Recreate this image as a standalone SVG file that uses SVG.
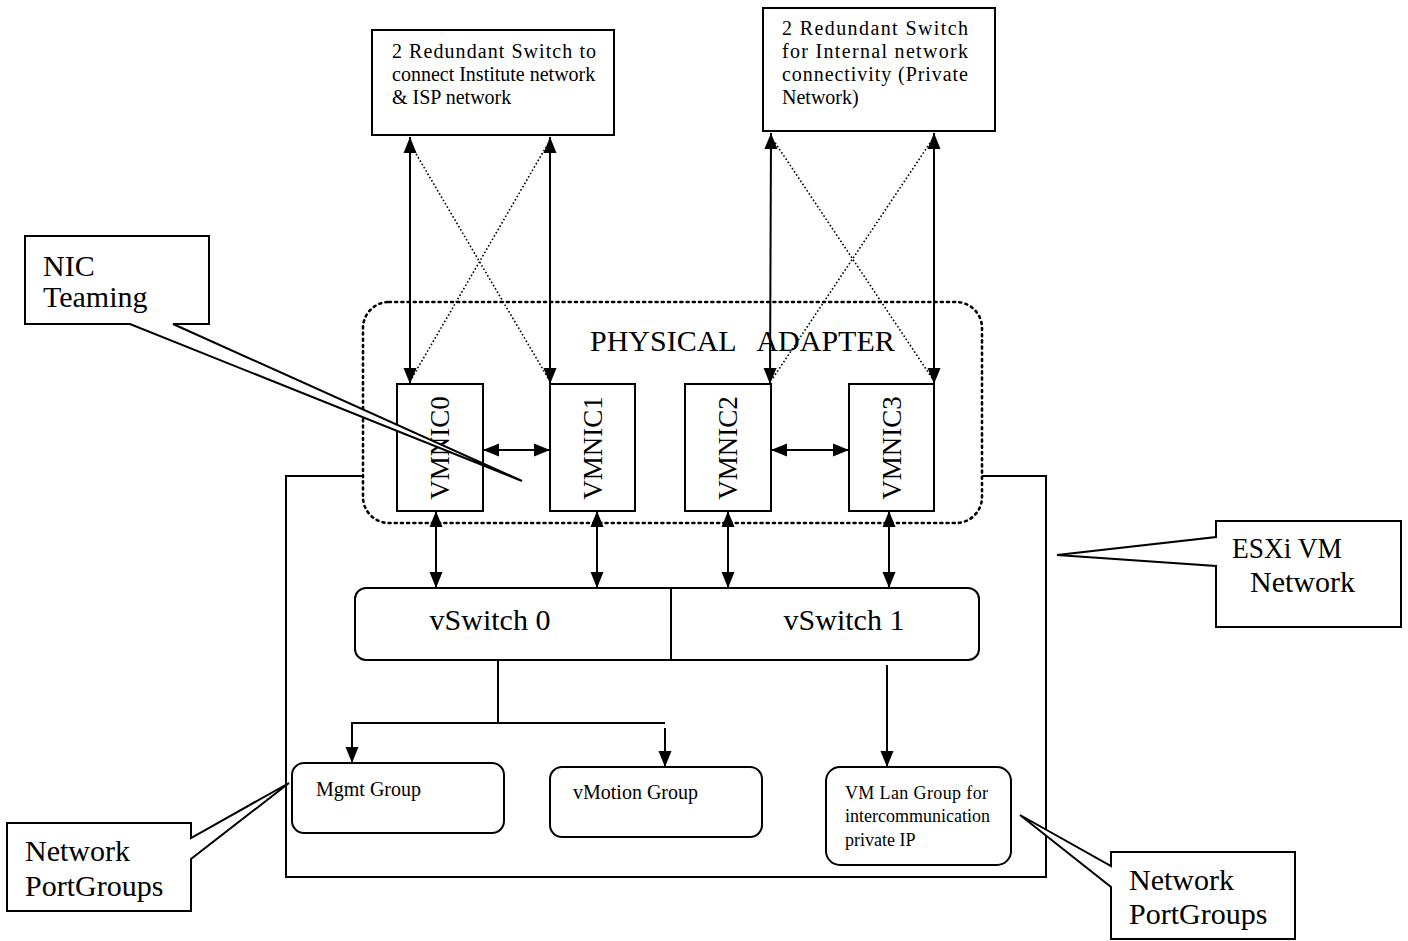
<svg xmlns="http://www.w3.org/2000/svg" width="1408" height="941" viewBox="0 0 1408 941">
<defs>
<marker id="ah" markerUnits="userSpaceOnUse" markerWidth="16" markerHeight="16" viewBox="0 0 16 16" refX="16" refY="8" orient="auto-start-reverse">
<path d="M0,1.5 L16,8 L0,14.5 Z" fill="#000"/>
</marker>
</defs>
<style>
.box{fill:#fff;stroke:#000;stroke-width:2}
.ln{fill:none;stroke:#000;stroke-width:2}
.dot{fill:none;stroke:#000;stroke-width:1.6;stroke-dasharray:1.6 2.2}
.t{font-family:"Liberation Serif",serif;fill:#000}
.s{font-size:20px}
.m{font-size:18px}
.v{font-size:27px}
.b{font-size:30px}
.call{fill:#fff;stroke:#000;stroke-width:2;stroke-linejoin:miter}
</style>
<rect width="1408" height="941" fill="#fff"/>

<g id="esxi-network">
<rect x="286" y="476" width="760" height="401" class="box"/>
</g>

<g id="physical-adapter">
<rect x="363" y="302" width="619" height="221" rx="26" ry="26" fill="#fff" stroke="#000" stroke-width="2.6" stroke-dasharray="2 4.2" stroke-linecap="round"/>
<text class="t b" x="590" y="351" xml:space="preserve">PHYSICAL   ADAPTER</text>
</g>

<g id="switch-left">
<rect x="372" y="30" width="242" height="105" class="box"/>
<text class="t s" x="392" y="58" textLength="204" lengthAdjust="spacing">2 Redundant Switch to</text>
<text class="t s" x="392" y="81">connect Institute network</text>
<text class="t s" x="392" y="104">&amp; ISP network</text>
</g>

<g id="switch-right">
<rect x="763" y="8" width="232" height="123" class="box"/>
<text class="t s" x="782" y="35" textLength="186" lengthAdjust="spacing">2 Redundant Switch</text>
<text class="t s" x="782" y="58" textLength="186" lengthAdjust="spacing">for Internal network</text>
<text class="t s" x="782" y="81" textLength="186" lengthAdjust="spacing">connectivity (Private</text>
<text class="t s" x="782" y="104">Network)</text>
</g>

<g id="vmnic0">
<rect x="397" y="384" width="86" height="127" class="box"/>
<text class="t v" transform="translate(449,448) rotate(-90)" text-anchor="middle">VMNIC0</text>
</g>
<g id="vmnic1">
<rect x="550" y="384" width="85" height="127" class="box"/>
<text class="t v" transform="translate(602,448) rotate(-90)" text-anchor="middle">VMNIC1</text>
</g>
<g id="vmnic2">
<rect x="685" y="384" width="86" height="127" class="box"/>
<text class="t v" transform="translate(737,448) rotate(-90)" text-anchor="middle">VMNIC2</text>
</g>
<g id="vmnic3">
<rect x="849" y="384" width="85" height="127" class="box"/>
<text class="t v" transform="translate(901,448) rotate(-90)" text-anchor="middle">VMNIC3</text>
</g>

<g id="vswitch">
<rect x="355" y="588" width="624" height="72" rx="11" ry="11" class="box"/>
<line x1="671" y1="588" x2="671" y2="660" class="ln"/>
<text class="t b" x="490" y="630" text-anchor="middle">vSwitch 0</text>
<text class="t b" x="844" y="630" text-anchor="middle">vSwitch 1</text>
</g>

<g id="mgmt-group">
<rect x="292" y="763" width="212" height="70" rx="12" ry="12" class="box"/>
<text class="t s" x="316" y="796">Mgmt Group</text>
</g>
<g id="vmotion-group">
<rect x="550" y="767" width="212" height="70" rx="12" ry="12" class="box"/>
<text class="t s" x="573" y="799">vMotion Group</text>
</g>
<g id="vmlan-group">
<rect x="826" y="767" width="185" height="98" rx="14" ry="14" class="box"/>
<text class="t m" x="845" y="799" textLength="143" lengthAdjust="spacing">VM Lan Group for</text>
<text class="t m" x="845" y="822">intercommunication</text>
<text class="t m" x="845" y="846">private IP</text>
</g>

<g id="connectors">
<line x1="410" y1="137" x2="410" y2="384" class="ln" marker-start="url(#ah)" marker-end="url(#ah)"/>
<line x1="550" y1="137" x2="550" y2="384" class="ln" marker-start="url(#ah)" marker-end="url(#ah)"/>
<line x1="771" y1="133" x2="770" y2="384" class="ln" marker-start="url(#ah)" marker-end="url(#ah)"/>
<line x1="934" y1="133" x2="934" y2="384" class="ln" marker-start="url(#ah)" marker-end="url(#ah)"/>
<line x1="412" y1="378" x2="546" y2="147" class="dot"/>
<line x1="548" y1="378" x2="412" y2="147" class="dot"/>
<line x1="773" y1="378" x2="930" y2="143" class="dot"/>
<line x1="932" y1="378" x2="774" y2="141" class="dot"/>
<line x1="483" y1="450" x2="550" y2="450" class="ln" marker-start="url(#ah)" marker-end="url(#ah)"/>
<line x1="771" y1="450" x2="849" y2="450" class="ln" marker-start="url(#ah)" marker-end="url(#ah)"/>
<line x1="436" y1="511" x2="436" y2="588" class="ln" marker-start="url(#ah)" marker-end="url(#ah)"/>
<line x1="597" y1="511" x2="597" y2="588" class="ln" marker-start="url(#ah)" marker-end="url(#ah)"/>
<line x1="728" y1="511" x2="728" y2="588" class="ln" marker-start="url(#ah)" marker-end="url(#ah)"/>
<line x1="889" y1="511" x2="889" y2="588" class="ln" marker-start="url(#ah)" marker-end="url(#ah)"/>
<polyline points="498,660 498,723" class="ln"/>
<polyline points="665,723 352,723 352,763" class="ln" marker-end="url(#ah)"/>
<line x1="665" y1="728" x2="665" y2="767" class="ln" marker-end="url(#ah)"/>
<line x1="887" y1="665" x2="887" y2="767" class="ln" marker-end="url(#ah)"/>
</g>

<g id="callout-nic-teaming">
<path d="M25,236 H209 V324 H173 L522,481 L130,324 H25 Z" class="call"/>
<text class="t b" x="43" y="276">NIC</text>
<text class="t b" x="43" y="307">Teaming</text>
</g>

<g id="callout-esxi">
<path d="M1216,521 H1401 V627 H1216 V566 L1057,555 L1216,537 Z" class="call"/>
<text class="t b" x="1232" y="558" textLength="110" lengthAdjust="spacingAndGlyphs">ESXi VM</text>
<text class="t b" x="1250" y="592">Network</text>
</g>

<g id="callout-portgroups-left">
<path d="M7,823 H191 V838 L289,783 L191,859 V911 H7 Z" class="call"/>
<text class="t b" x="25" y="861">Network</text>
<text class="t b" x="25" y="896">PortGroups</text>
</g>

<g id="callout-portgroups-right">
<path d="M1111,852 H1295 V939 H1111 V887 L1020,815 L1111,866 Z" class="call"/>
<text class="t b" x="1129" y="890">Network</text>
<text class="t b" x="1129" y="924">PortGroups</text>
</g>
</svg>
